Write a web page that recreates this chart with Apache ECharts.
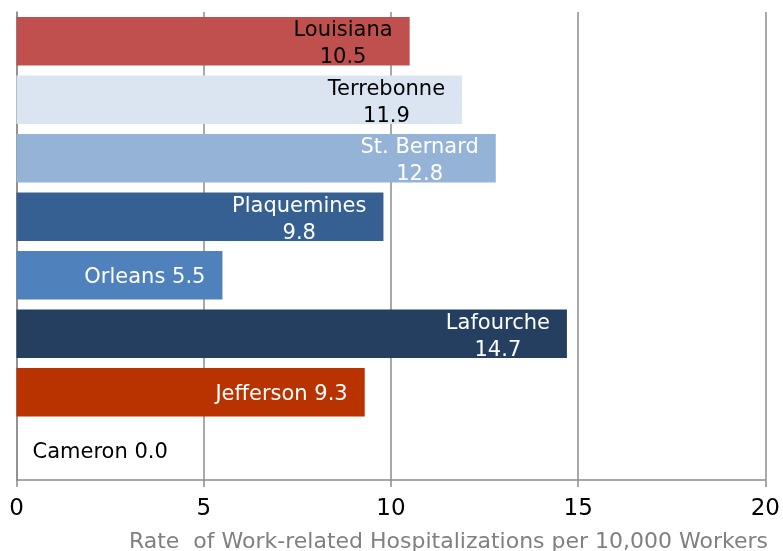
<!DOCTYPE html>
<html><head><meta charset="utf-8">
<script src="https://cdn.jsdelivr.net/npm/echarts@6/dist/echarts.min.js"></script>
<style>html,body{margin:0;padding:0;background:#fff}#c{width:783px;height:551px}</style>
</head><body><div id="c"></div>
<script>
const categories = ["Louisiana","Terrebonne","St. Bernard","Plaquemines","Orleans","Lafourche","Jefferson","Cameron"];
const values = [10.5, 11.9, 12.8, 9.8, 5.5, 14.7, 9.3, 0.0];
const barColors = ["#C0504D","#DBE5F1","#95B3D7","#366092","#4F81BD","#253F60","#B83300","#FFFFFF"];
const labelColors = ["#000","#000","#fff","#fff","#fff","#fff","#fff","#000"];
const twoLine = [true,true,true,true,false,true,false,false];
const xTicks = [0,5,10,15,20];
const axisTitle = "Rate  of Work-related Hospitalizations per 10,000 Workers";
const FONT = "DejaVu Sans";

const chart = echarts.init(document.getElementById('c'));
const data = values.map((v,i)=>({
  value: v,
  itemStyle: {color: barColors[i]},
  label: {
    color: labelColors[i],
    position: v === 0 ? 'right' : 'insideRight',
    distance: v === 0 ? 16 : 17,
    offset: [0, twoLine[i] ? 3 : 2]
  }
}));
chart.setOption({
  animation: false,
  grid: {left: 16.5, right: 16, top: 12, bottom: 71, containLabel: false},
  title: {text: axisTitle, right: 10, top: 526,
    textStyle: {fontFamily: FONT, fontSize: 22, fontWeight: 'normal', color: '#808080'}},
  xAxis: {type: 'value', min: xTicks[0], max: xTicks[xTicks.length-1], interval: 5,
    axisLine: {show: true, lineStyle: {color: '#8c8c8c', width: 1.5}},
    axisTick: {show: true, length: 7, lineStyle: {color: '#8c8c8c', width: 1.5}},
    splitLine: {show: true, lineStyle: {color: '#8c8c8c', width: 1.5}},
    axisLabel: {margin: 18, color: '#000', fontFamily: FONT, fontSize: 23,
      formatter: v => String(v)}},
  yAxis: {type: 'category', data: categories, inverse: true,
    axisLine: {show: true, lineStyle: {color: '#8c8c8c', width: 1.5}},
    axisTick: {show: false}, axisLabel: {show: false}, splitLine: {show: false}},
  series: [{
    type: 'bar', data: data, barCategoryGap: '17%',
    label: {show: true, fontFamily: FONT, fontSize: 21, lineHeight: 27,
      formatter: p => {
        const i = p.dataIndex;
        const v = values[i].toFixed(1);
        return twoLine[i] ? '{c|' + categories[i] + '}\n{c|' + v + '}' : '{c|' + categories[i] + ' ' + v + '}';
      },
      rich: {c: {align: 'center', fontFamily: FONT, fontSize: 21, lineHeight: 27}}
    }
  }]
});
</script></body></html>
